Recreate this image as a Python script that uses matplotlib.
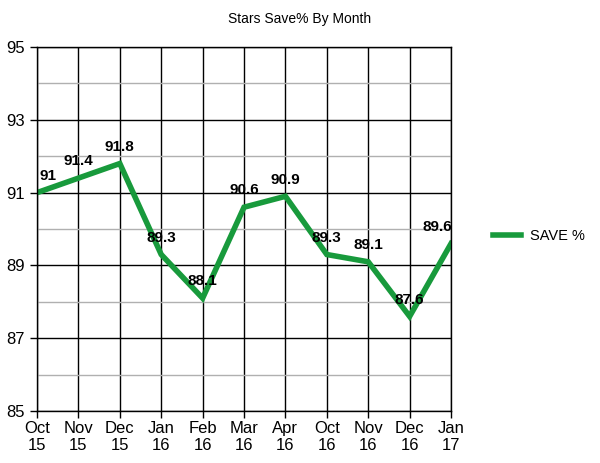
import matplotlib.pyplot as plt
from matplotlib.ticker import MultipleLocator

months = ['Oct\n15', 'Nov\n15', 'Dec\n15', 'Jan\n16', 'Feb\n16', 'Mar\n16', 'Apr\n16',
          'Oct\n16', 'Nov\n16', 'Dec\n16', 'Jan\n17']
save_pct = [91, 91.4, 91.8, 89.3, 88.1, 90.6, 90.9, 89.3, 89.1, 87.6, 89.6]
y_ticks = [85, 87, 89, 91, 93, 95]

plt.rcParams['font.family'] = ['Liberation Sans', 'DejaVu Sans']

fig = plt.figure(figsize=(6, 4.63), dpi=100)
ax = fig.add_axes([0.0617, 0.1123, 0.69, 0.786])

x = list(range(len(months)))
ax.plot(x, save_pct, color='#189a3c', linewidth=4, label='SAVE %', solid_joinstyle='miter')

for i, v in enumerate(save_pct):
    dx = 0
    if i == 0:
        dx = 8
    elif i == len(save_pct) - 1:
        dx = -10
    ax.annotate(f'{v:g}', (i, v), xytext=(dx, 7), textcoords='offset points',
                ha='center', va='bottom', fontsize=11, fontweight='bold')

ax.set_xlim(0, len(months) - 1)
ax.set_ylim(85, 95)
ax.set_xticks(x)
ax.set_xticklabels(months, fontsize=12)
ax.set_yticks(y_ticks)
ax.yaxis.set_minor_locator(MultipleLocator(1))
ax.tick_params(axis='y', labelsize=12, length=5, width=1)
ax.tick_params(axis='x', length=5, width=1, pad=2)
ax.tick_params(axis='y', which='minor', length=0)

ax.grid(True, which='minor', axis='y', color='#b0b0b0', linewidth=1)
ax.grid(True, which='major', axis='y', color='black', linewidth=1)
ax.grid(True, which='major', axis='x', color='black', linewidth=1)
ax.set_axisbelow(True)
for s in ax.spines.values():
    s.set_linewidth(1)

fig.suptitle('Stars Save% By Month', x=0.5, y=0.975, fontsize=10)
fig.legend(loc='center left', bbox_to_anchor=(0.8, 0.49), frameon=False,
           fontsize=10.5, handlelength=1.9, handletextpad=0.6)

fig.savefig('out.png', dpi=100)
